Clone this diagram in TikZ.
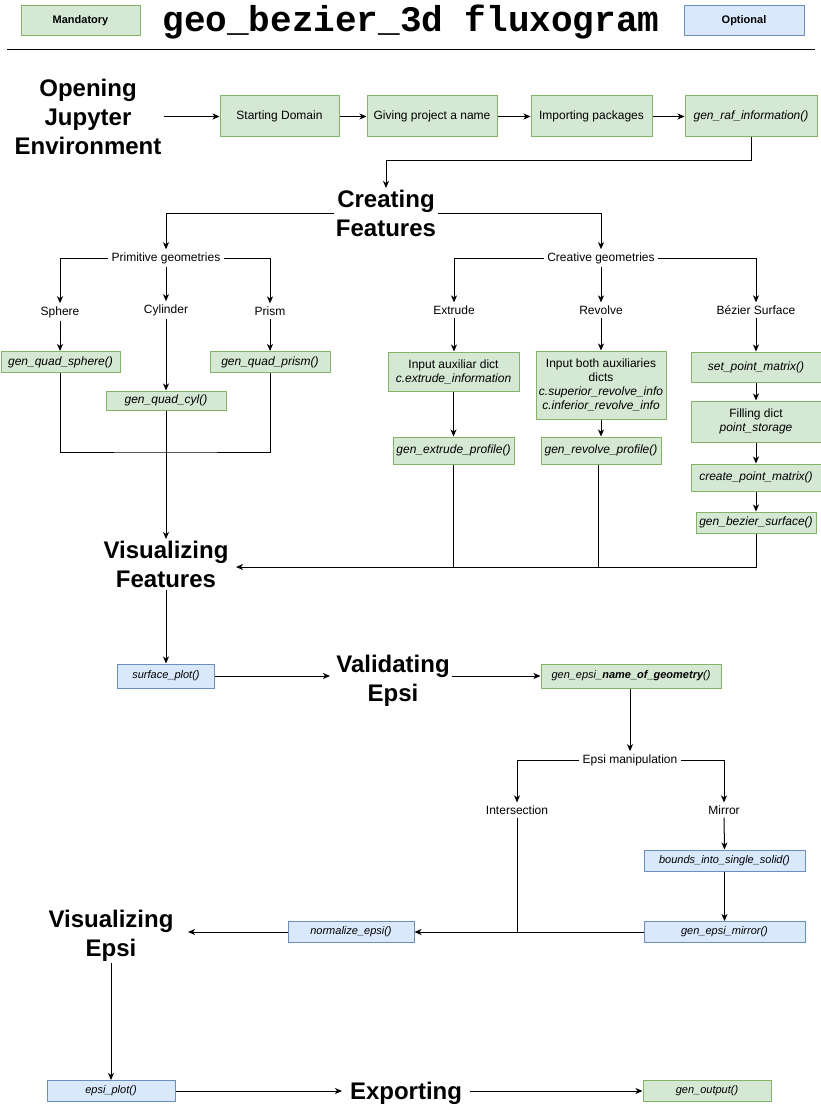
\documentclass[tikz,border=0pt]{standalone}
\usepackage{fontspec}
\setmainfont{Liberation Sans}
\newfontfamily\titlemono{Liberation Mono}
\usetikzlibrary{arrows.meta}
\definecolor{gfill}{HTML}{D5E8D4}
\definecolor{gdraw}{HTML}{82B366}
\definecolor{bfill}{HTML}{DAE8FC}
\definecolor{bdraw}{HTML}{6C8EBF}
\begin{document}
\begin{tikzpicture}[x=1pt,y=-1pt,
  gbox/.style={draw=gdraw, fill=gfill, line width=1pt, inner sep=1pt, align=center, font=\fontsize{12}{14}\selectfont},
  bbox/.style={draw=bdraw, fill=bfill, line width=1pt, inner sep=1pt, align=center, font=\fontsize{11}{13}\selectfont},
  big/.style={font=\fontsize{24}{29}\selectfont\bfseries, align=center, inner sep=2pt},
  lbl/.style={font=\fontsize{12}{14}\selectfont, inner sep=3pt},
  arr/.style={-{Stealth[length=7pt,width=6pt,inset=2pt]}, line width=1pt},
  ln/.style={line width=1pt}]
\useasboundingbox[fill=white] (0,0) rectangle (821,1110);

% header
\node[gbox, minimum width=119pt, minimum height=30pt, font=\fontsize{11}{13}\selectfont\bfseries] (mand) at (80.5,21) {Mandatory};
\node[font=\titlemono\fontsize{36}{40}\selectfont\bfseries, inner sep=0pt] (title) at (411,22) {geo\_bezier\_3d fluxogram};
\node[bbox, minimum width=120pt, minimum height=30pt, font=\fontsize{11}{13}\selectfont\bfseries] (opt) at (744,21) {Optional};
\draw[line width=1pt] (7,50) -- (815,50);

% row 1
\node[big] (oje) at (88,117) {Opening\\Jupyter\\Environment};
\node[gbox, minimum width=119pt, minimum height=41pt] (sd) at (279.5,116.5) {Starting Domain};
\node[gbox, minimum width=130pt, minimum height=41pt] (gp) at (432,116.5) {Giving project a name};
\node[gbox, minimum width=121pt, minimum height=41pt] (ip) at (591.5,116.5) {Importing packages};
\node[gbox, minimum width=132pt, minimum height=41pt] (raf) at (751,116.5) {\itshape gen\_raf\_information()};
\draw[arr] (oje.east |- sd.west) -- (sd.west);
\draw[arr] (sd) -- (gp);
\draw[arr] (gp) -- (ip);
\draw[arr] (ip) -- (raf);

\node[big] (cf) at (386,213.5) {Creating\\Features};
\draw[arr] (raf.south) -- ++(0,23) -| (cf.north);

% primitive geometries
\node[lbl] (pg) at (166,258) {Primitive geometries};
\node[lbl] (cg) at (601,258) {Creative geometries};
\draw[arr] (cf.west) -| (pg.north);
\draw[arr] (cf.east) -| (cg.north);

\node[lbl] (sph) at (60,312) {Sphere};
\node[lbl] (cyl) at (166,310) {Cylinder};
\node[lbl] (pri) at (270,311) {Prism};
\draw[arr] (pg.west) -| (sph.north);
\draw[arr] (pg.east) -| (pri.north);
\draw[arr] (pg.south) -- (cyl.north);

\node[gbox, minimum width=119pt, minimum height=21pt] (gqs) at (60.5,362) {\itshape gen\_quad\_sphere()};
\node[gbox, minimum width=120pt, minimum height=19pt] (gqc) at (166,400.5) {\itshape gen\_quad\_cyl()};
\node[gbox, minimum width=120pt, minimum height=21pt] (gqp) at (270,362) {\itshape gen\_quad\_prism()};
\draw[arr] (sph.south) -- (sph.south |- gqs.north);
\draw[arr] (pri.south) -- (pri.south |- gqp.north);
\draw[arr] (cyl.south) -- (gqc.north);

\coordinate (pj) at (166,452);
\draw[ln] (gqs.south) |- (pj) -| (gqp.south);
\node[big] (vf) at (166,564.5) {Visualizing\\Features};
\draw[arr] (gqc.south) -- (vf.north);

% creative geometries
\node[lbl] (ext) at (454,310) {Extrude};
\node[lbl] (rev) at (601,310) {Revolve};
\node[lbl] (bez) at (756,310) {Bézier Surface};
\draw[arr] (cg.west) -| (ext.north);
\draw[arr] (cg.east) -| (bez.north);
\draw[arr] (cg.south) -- (rev.north);

\node[gbox, minimum width=131pt, minimum height=39pt] (iad) at (453.5,371.5) {Input auxiliar dict\\{\itshape c.extrude\_information}};
\node[gbox, minimum width=121pt, minimum height=27pt] (gep) at (453.5,450.5) {\itshape gen\_extrude\_profile()};
\node[gbox, minimum width=130pt, minimum height=68pt] (ibd) at (601,385) {Input both auxiliaries\\dicts\\{\itshape c.superior\_revolve\_info}\\{\itshape c.inferior\_revolve\_info}};
\node[gbox, minimum width=120pt, minimum height=27pt] (grp) at (601,450.5) {\itshape gen\_revolve\_profile()};
\node[gbox, minimum width=130pt, minimum height=30pt] (spm) at (756,367) {\itshape set\_point\_matrix()};
\node[gbox, minimum width=130pt, minimum height=41pt] (fd) at (756,421.5) {Filling dict\\{\itshape point\_storage}};
\node[gbox, minimum width=130pt, minimum height=27pt] (cpm) at (756,477.5) {\itshape create\_point\_matrix()};
\node[gbox, minimum width=120pt, minimum height=21pt] (gbs) at (756,522.5) {\itshape gen\_bezier\_surface()};

\draw[arr] (ext.south) -- (ext.south |- iad.north);
\draw[arr] (iad.south) -- (gep.north);
\draw[arr] (rev.south) -- (ibd.north);
\draw[arr] (ibd.south) -- (grp.north);
\draw[arr] (bez.south) -- (spm.north);
\draw[arr] (spm) -- (fd);
\draw[arr] (fd) -- (cpm);
\draw[arr] (cpm) -- (gbs);

\coordinate (vfin) at (236,567);
\draw[arr] (gbs.south) |- (vfin);
\draw[ln] (gep.south) -- (gep.south |- vfin);
\draw[ln] ([xshift=-3pt]grp.south) -- ([xshift=-3pt]grp.south |- vfin);

% validating
\node[bbox, minimum width=97pt, minimum height=24pt] (sp) at (166,676) {\itshape surface\_plot()};
\draw[arr] (vf.south) -- (sp.north);
\node[big] (ve) at (393,680.5) {Validating\\Epsi};
\coordinate (vein) at (330,676);
\draw[arr] (sp.east) -- (vein);
\node[gbox, minimum width=180pt, minimum height=24pt, font=\fontsize{11}{13}\selectfont] (gen) at (631,676) {\itshape gen\_epsi\_\textbf{name\_of\_geometry}()};
\draw[arr] (ve.east |- gen.west) -- (gen.west);

% epsi manipulation
\node[lbl] (em) at (630,760) {Epsi manipulation};
\draw[arr] (gen.south -| em.north) -- (em.north);
\node[lbl] (inter) at (517,810) {Intersection};
\node[lbl] (mir) at (724,810) {Mirror};
\draw[arr] (em.west) -| (inter.north);
\draw[arr] (em.east) -| (mir.north);
\node[bbox, minimum width=161pt, minimum height=21pt] (bis) at (724.5,860.5) {\itshape bounds\_into\_single\_solid()};
\node[bbox, minimum width=161pt, minimum height=21pt] (gem) at (724.5,932) {\itshape gen\_epsi\_mirror()};
\draw[arr] (mir.south) -- (bis.north);
\draw[arr] (bis.south) -- (gem.north);
\node[bbox, minimum width=126pt, minimum height=21pt] (ne) at (351,932) {\itshape normalize\_epsi()};
\draw[arr] (gem.west) -- (ne.east);
\draw[ln] (inter.south) -- (inter.south |- gem.west);

\node[big] (vis) at (111,935.5) {Visualizing\\Epsi};
\coordinate (visin) at (188,932);
\draw[arr] (ne.west) -- (visin);

% exporting
\node[bbox, minimum width=128pt, minimum height=21pt] (ep) at (111,1091) {\itshape epsi\_plot()};
\draw[arr] (vis.south) -- (ep.north);
\node[big] (exp) at (406,1093) {Exporting};
\coordinate (expin) at (342,1091);
\draw[arr] (ep.east) -- (expin);
\node[gbox, minimum width=128pt, minimum height=21pt, font=\fontsize{11}{13}\selectfont] (go) at (707,1091) {\itshape gen\_output()};
\draw[arr] (exp.east |- go.west) ++(6pt,0) -- (go.west);
\end{tikzpicture}
\end{document}
